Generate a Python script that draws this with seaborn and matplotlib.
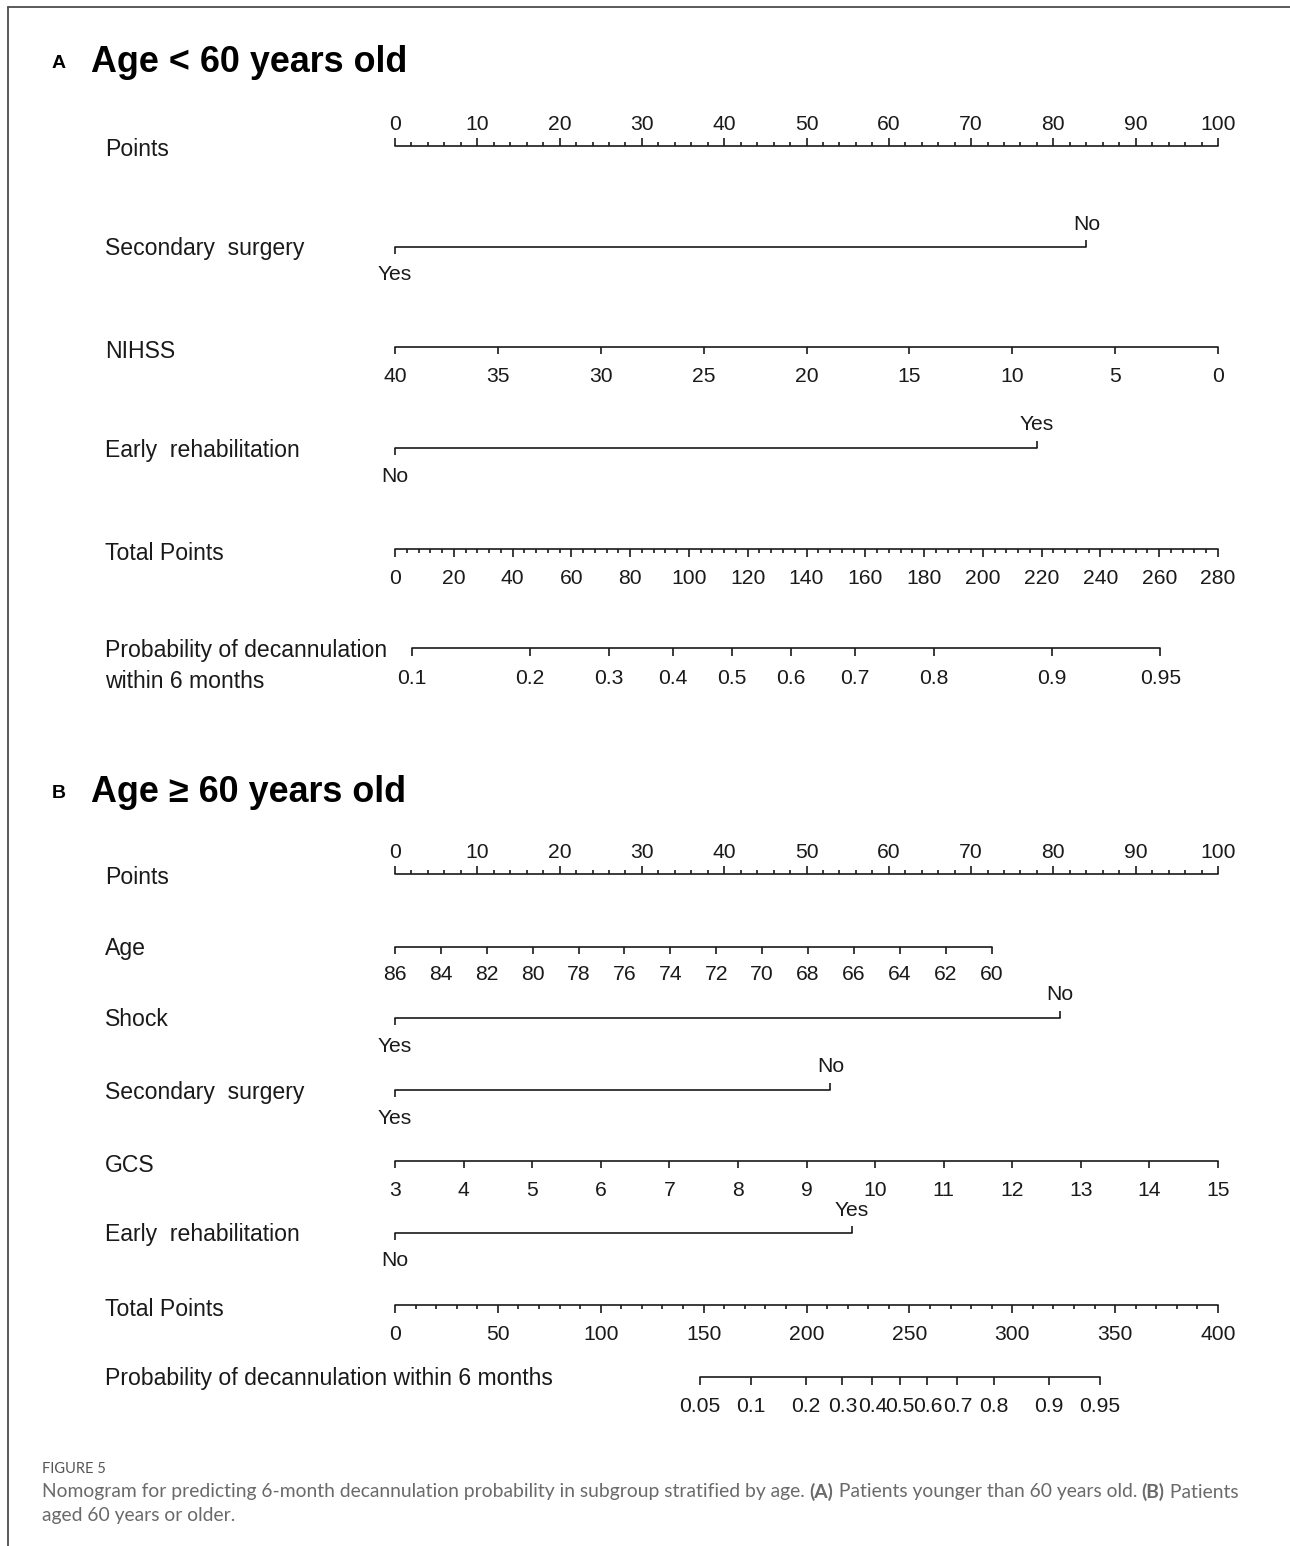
import numpy as np
import pandas as pd
import matplotlib
matplotlib.use("Agg")
import matplotlib.pyplot as plt
import seaborn as sns
from matplotlib.lines import Line2D

# ---------------- nomogram data ----------------
points_major = list(range(0, 101, 10))
points_minor = list(range(0, 101, 2))

# Panel A: age < 60
a_secondary_levels = ["Yes", "No"]
a_secondary_points = [0, 84]
a_nihss_ticks = [40, 35, 30, 25, 20, 15, 10, 5, 0]
a_nihss_zero, a_nihss_end, a_nihss_end_points = 40, 0, 100
a_rehab_levels = ["No", "Yes"]
a_rehab_points = [0, 78]
a_total_major = list(range(0, 281, 20))
a_total_minor = list(range(0, 281, 4))
a_total_max = 280
a_prob_ticks = [0.1, 0.2, 0.3, 0.4, 0.5, 0.6, 0.7, 0.8, 0.9, 0.95]
a_prob_mid = 114.6      # total points at probability 0.5
a_prob_slope = 49.5     # total points per logit unit

# Panel B: age >= 60
b_age_ticks = [86, 84, 82, 80, 78, 76, 74, 72, 70, 68, 66, 64, 62, 60]
b_age_zero, b_age_end, b_age_end_points = 86, 60, 72.5
b_shock_levels = ["Yes", "No"]
b_shock_points = [0, 80.8]
b_secondary_levels = ["Yes", "No"]
b_secondary_points = [0, 52.9]
b_gcs_ticks = list(range(3, 16))
b_gcs_zero, b_gcs_end, b_gcs_end_points = 3, 15, 100
b_rehab_levels = ["No", "Yes"]
b_rehab_points = [0, 55.5]
b_total_major = list(range(0, 401, 50))
b_total_minor = list(range(0, 401, 10))
b_total_max = 400
b_prob_ticks = [0.05, 0.1, 0.2, 0.3, 0.4, 0.5, 0.6, 0.7, 0.8, 0.9, 0.95]
b_prob_mid = 245.4
b_prob_slope = 33.0

# ---------------- layout ----------------
W, H = 1290, 1546
X0, PX_PER_PT = 395, 8.23          # points-axis origin and scale in pixels
TXT_DY = 2                         # optical centring of text boxes
sns.set_theme(style="white")
plt.rcParams["font.family"] = ["Liberation Sans", "DejaVu Sans"]

fig = plt.figure(figsize=(W / 100, H / 100), dpi=100)
ax = fig.add_axes([0, 0, 1, 1])
ax.set_xlim(-X0 / PX_PER_PT, (W - X0) / PX_PER_PT)
ax.set_ylim(H, 0)
ax.axis("off")

INK = "#1a1a1a"
LW = 1.2
LABEL_FS = 16.6
TICK_FS = 15.2


def px(xp):
    return (xp - X0) / PX_PER_PT


def hline(x0, x1, y):
    df = pd.DataFrame({"x": [x0, x1], "y": [y, y]})
    sns.lineplot(data=df, x="x", y="y", ax=ax, color=INK, lw=LW,
                 estimator=None, legend=False)


def ticks(xs, y, length):
    ax.vlines(xs, y, y + length, color=INK, lw=LW)


def tick_labels(xs, labels, y):
    for x, lab in zip(xs, labels):
        ax.text(x, y + TXT_DY, lab, ha="center", va="center",
                fontsize=TICK_FS, color=INK)


def row_label(text, y):
    ax.text(px(105), y + TXT_DY, text, ha="left", va="center",
            fontsize=LABEL_FS, color=INK, linespacing=1.45)


def linear_points(vals, zero, end, end_pts):
    return [(v - zero) / (end - zero) * end_pts for v in vals]


def points_axis(y):
    row_label("Points", y + 2)
    hline(0, 100, y)
    ticks(points_major, y, -8)
    ticks([m for m in points_minor if m % 10], y, -4)
    tick_labels(points_major, [str(v) for v in points_major], y - 23)


def categorical_axis(name, levels, pts, y):
    row_label(name, y)
    hline(min(pts), max(pts), y)
    # first level below the line, second level above
    ticks([pts[0]], y, 7)
    ticks([pts[1]], y, -7)
    tick_labels([pts[0]], [levels[0]], y + 26)
    tick_labels([pts[1]], [levels[1]], y - 25)


def continuous_axis(name, vals, zero, end, end_pts, y, label_dy=27, name_dy=2):
    row_label(name, y + name_dy)
    xs = linear_points(vals, zero, end, end_pts)
    hline(min(xs), max(xs), y)
    ticks(xs, y, 7)
    tick_labels(xs, [str(v) for v in vals], y + label_dy)


def total_axis(major, minor, tmax, y):
    row_label("Total Points", y + 2)
    scale = 100 / tmax
    hline(0, 100, y)
    ticks([m * scale for m in major], y, 8)
    ticks([m * scale for m in minor if m not in major], y, 4)
    tick_labels([m * scale for m in major], [str(m) for m in major], y + 27)


def prob_axis(name, probs, mid, slope, tmax, y, label_y):
    row_label(name, label_y)
    p = np.array(probs)
    total = mid + slope * np.log(p / (1 - p))
    xs = total * 100 / tmax
    hline(xs.min(), xs.max(), y)
    ticks(xs, y, 8)
    tick_labels(xs, [f"{v:g}" for v in probs], y + 28)


def panel_title(letter, title, y):
    ax.text(px(52), y + 3, letter, ha="left", va="center", fontsize=14,
            fontweight="bold", color="black")
    ax.text(px(91), y + 3, title, ha="left", va="center", fontsize=25.8,
            fontweight="bold", color="black")


# ---------------- panel A ----------------
panel_title("A", "Age < 60 years old", 60)
points_axis(146)
categorical_axis("Secondary  surgery", a_secondary_levels, a_secondary_points, 247)
continuous_axis("NIHSS", a_nihss_ticks, a_nihss_zero, a_nihss_end,
                a_nihss_end_points, 347, label_dy=28)
categorical_axis("Early  rehabilitation", a_rehab_levels, a_rehab_points, 448)
total_axis(a_total_major, a_total_minor, a_total_max, 549)
prob_axis("Probability of decannulation\nwithin 6 months", a_prob_ticks,
          a_prob_mid, a_prob_slope, a_total_max, 648, 664)

# ---------------- panel B ----------------
panel_title("B", "Age \u2265 60 years old", 790)
points_axis(874)
continuous_axis("Age", b_age_ticks, b_age_zero, b_age_end, b_age_end_points,
                947, label_dy=25, name_dy=-1)
categorical_axis("Shock", b_shock_levels, b_shock_points, 1018)
categorical_axis("Secondary  surgery", b_secondary_levels, b_secondary_points, 1090)
continuous_axis("GCS", b_gcs_ticks, b_gcs_zero, b_gcs_end, b_gcs_end_points,
                1161, label_dy=27)
categorical_axis("Early  rehabilitation", b_rehab_levels, b_rehab_points, 1233)
total_axis(b_total_major, b_total_minor, b_total_max, 1305)
prob_axis("Probability of decannulation within 6 months", b_prob_ticks,
          b_prob_mid, b_prob_slope, b_total_max, 1377, 1377)

# ---------------- frame and caption ----------------
fig.add_artist(Line2D([8 / W, 1], [1 - 7 / H, 1 - 7 / H], color="#4d4d4d", lw=1.3))
fig.add_artist(Line2D([8 / W, 8 / W], [0, 1 - 7 / H], color="#4d4d4d", lw=1.3))

CAP_FONT = ["Lato", "DejaVu Sans"]
fig.text(42 / W, 1 - 1469 / H, "FIGURE 5", family=CAP_FONT, fontsize=10.5,
         color="#555555", va="center", ha="left")

renderer = fig.canvas.get_renderer()


def rich_line(x_px, y_px, runs):
    x = x_px
    for s, w in runs:
        t = fig.text(x / W, 1 - y_px / H, s, family=CAP_FONT, fontsize=13.85,
                     fontweight=w, color="#6a6a6a", va="center", ha="left")
        x += t.get_window_extent(renderer=renderer).width


rich_line(42, 1492, [
    ("Nomogram for predicting 6-month decannulation probability in subgroup "
     "stratified by age. ", "normal"),
    ("(A)", "bold"),
    (" Patients younger than 60 years old. ", "normal"),
    ("(B)", "bold"),
    (" Patients", "normal"),
])
rich_line(42, 1516, [("aged 60 years or older.", "normal")])

fig.savefig("out.png", dpi=100)
